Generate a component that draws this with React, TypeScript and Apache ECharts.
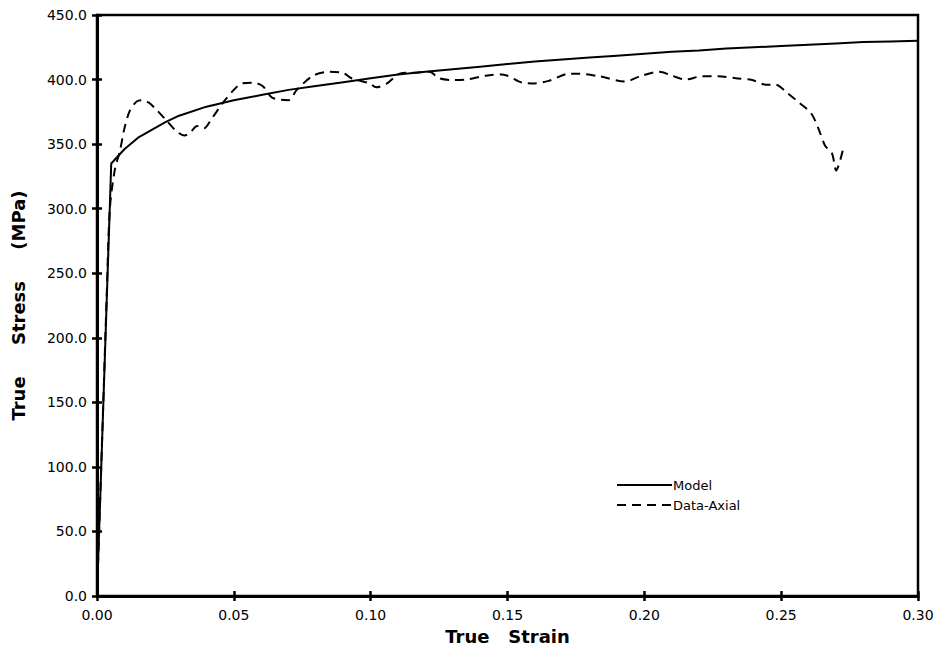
import React, { useEffect, useRef } from "react";
import * as echarts from "echarts";

const modelStrain = [0, 0.0052, 0.01, 0.015, 0.02, 0.025, 0.03, 0.04, 0.05, 0.06, 0.07, 0.08, 0.09, 0.1, 0.11, 0.12, 0.13, 0.14, 0.15, 0.16, 0.17, 0.18, 0.19, 0.2, 0.21, 0.22, 0.23, 0.24, 0.25, 0.26, 0.27, 0.28, 0.29, 0.3];
const modelStress = [0, 335, 346, 355, 361, 367, 372, 379, 384, 388, 392, 395, 398, 401, 404, 406, 408, 410, 412, 414, 415.5, 417, 418.5, 420, 421.5, 422.5, 424, 425, 426, 427, 428, 429, 429.5, 430];

const dataStrain = [0, 0.002, 0.0035, 0.0047, 0.0065, 0.0084, 0.01, 0.012, 0.0145, 0.0168, 0.019, 0.022, 0.0255, 0.029, 0.032, 0.0345, 0.0365, 0.039, 0.042, 0.046, 0.05, 0.053, 0.057, 0.0605, 0.064, 0.07, 0.073, 0.079, 0.085, 0.09, 0.093, 0.0996, 0.102, 0.106, 0.1106, 0.117, 0.1215, 0.125, 0.13, 0.135, 0.142, 0.148, 0.1555, 0.159, 0.165, 0.1726, 0.176, 0.1836, 0.193, 0.199, 0.2055, 0.21, 0.215, 0.221, 0.227, 0.2335, 0.2394, 0.2445, 0.248, 0.252, 0.2566, 0.261, 0.2639, 0.266, 0.2686, 0.2701, 0.2725];
const dataStress = [0, 130, 230, 300, 330, 345, 362, 376, 383, 384, 382, 376, 368, 360, 356.6, 360, 364, 362, 370, 382, 392, 397, 397.5, 395, 386, 384, 392, 403, 406, 405, 401, 397, 394, 397, 404.5, 405.5, 406, 401, 399.6, 400, 403, 404, 397.5, 397, 399, 404.5, 404.5, 402.5, 398.5, 403, 406, 403, 400, 402.5, 402.5, 401, 399.6, 396, 396, 390, 382, 373.7, 360.5, 349, 342.7, 329.6, 345];

const seriesNames = ["Model", "Data-Axial"];
const xAxisTitle = "True   Strain";
const yAxisTitle = "True     Stress     (MPa)";

const FONT = "'DejaVu Sans', Verdana, sans-serif";

export default function App() {
  const ref = useRef<HTMLDivElement>(null);
  useEffect(() => {
    if (!ref.current) return;
    const chart = echarts.init(ref.current, undefined, { renderer: "svg" });
    const xCommon = { type: "value", min: 0, max: 0.3, interval: 0.05 };
    const yCommon = { type: "value", min: 0, max: 450, interval: 50 };
    const legendX = 617;
    const legendY = [485, 505];
    chart.setOption({
      animation: false,
      backgroundColor: "#fff",
      grid: {
        left: 97, right: 23, top: 15, bottom: 65,
        show: true, borderColor: "#000", borderWidth: 2.5, backgroundColor: "transparent",
      },
      graphic: [
        {
          type: "line",
          shape: { x1: legendX, y1: legendY[0], x2: legendX + 55, y2: legendY[0] },
          style: { stroke: "#000", lineWidth: 2 },
        },
        {
          type: "text",
          x: legendX + 56,
          y: legendY[0],
          style: { text: seriesNames[0], fontFamily: FONT, fontSize: 13, fill: "#000", verticalAlign: "middle", align: "left" },
        },
        {
          type: "line",
          shape: { x1: legendX, y1: legendY[1], x2: legendX + 55, y2: legendY[1] },
          style: { stroke: "#000", lineWidth: 2, lineDash: [9, 6] },
        },
        {
          type: "text",
          x: legendX + 56,
          y: legendY[1],
          style: { text: seriesNames[1], fontFamily: FONT, fontSize: 13, fill: "#000", verticalAlign: "middle", align: "left" },
        },
      ],
      xAxis: [
        {
          ...xCommon,
          position: "bottom",
          name: xAxisTitle,
          nameLocation: "middle",
          nameGap: 31,
          nameTextStyle: { fontFamily: FONT, fontSize: 18, fontWeight: "bold", color: "#000" },
          axisLine: { show: true, onZero: false, lineStyle: { color: "#000", width: 3 } },
          axisTick: { show: true, inside: false, length: 5, lineStyle: { color: "#000", width: 2.5 } },
          axisLabel: {
            margin: 12,
            fontFamily: FONT, fontSize: 14, color: "#000",
            formatter: (v: number) => v.toFixed(2),
          },
          splitLine: { show: false },
        },
        {
          ...xCommon,
          position: "bottom",
          axisLine: { show: false },
          axisTick: { show: true, inside: true, length: 5, lineStyle: { color: "#000", width: 2.5 } },
          axisLabel: { show: false },
          splitLine: { show: false },
        },
      ],
      yAxis: [
        {
          ...yCommon,
          position: "left",
          name: yAxisTitle,
          nameLocation: "middle",
          nameGap: 70,
          nameTextStyle: { fontFamily: FONT, fontSize: 18, fontWeight: "bold", color: "#000" },
          axisLine: { show: true, onZero: false, lineStyle: { color: "#000", width: 3 } },
          axisTick: { show: true, inside: false, length: 5, lineStyle: { color: "#000", width: 2.5 } },
          axisLabel: {
            margin: 10,
            fontFamily: FONT, fontSize: 14, color: "#000",
            formatter: (v: number) => v.toFixed(1),
          },
          splitLine: { show: false },
        },
        {
          ...yCommon,
          position: "left",
          axisLine: { show: false },
          axisTick: { show: true, inside: true, length: 5, lineStyle: { color: "#000", width: 2.5 } },
          axisLabel: { show: false },
          splitLine: { show: false },
        },
      ],
      series: [
        {
          name: seriesNames[0],
          type: "line",
          xAxisIndex: 0,
          yAxisIndex: 0,
          data: modelStrain.map((x, i) => [x, modelStress[i]]),
          showSymbol: false,
          symbol: "none",
          lineStyle: { color: "#000", width: 2, type: "solid" },
          itemStyle: { color: "#000" },
        },
        {
          name: seriesNames[1],
          type: "line",
          xAxisIndex: 0,
          yAxisIndex: 0,
          data: dataStrain.map((x, i) => [x, dataStress[i]]),
          showSymbol: false,
          symbol: "none",
          smooth: 0.3,
          lineStyle: { color: "#000", width: 2, type: [9, 6] },
          itemStyle: { color: "#000" },
        },
      ],
    });
    return () => chart.dispose();
  }, []);
  return (
    <div
      ref={ref}
      style={{ position: "fixed", left: 0, top: 0, width: 941, height: 661, background: "#fff" }}
    />
  );
}
